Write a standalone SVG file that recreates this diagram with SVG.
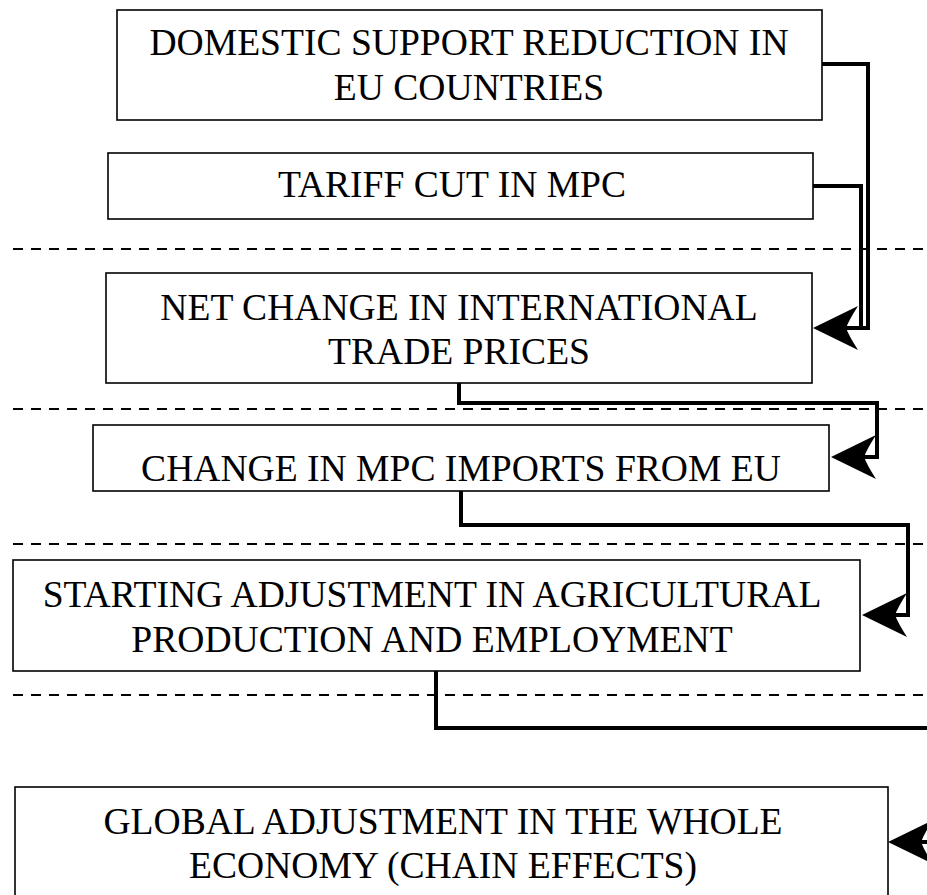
<svg xmlns="http://www.w3.org/2000/svg" width="927" height="895" viewBox="0 0 927 895">
<style>
.box{fill:#fff;stroke:#000;stroke-width:1.6}
.t{font-family:"Liberation Serif","Times New Roman",serif;font-size:37.6px;fill:#000;text-anchor:middle}
.dash{stroke:#000;stroke-width:2;stroke-dasharray:10 8;fill:none}
.conn{fill:none;stroke:#000;stroke-width:4;stroke-linejoin:miter}
</style>
<defs>
<marker id="arr" markerUnits="userSpaceOnUse" viewBox="-1 -24 48 48" markerWidth="48" markerHeight="48" refX="13" refY="0" orient="auto">
<path d="M46,0 L1,-22 Q10,-8 13,0 Q10,8 1,22 Z" fill="#000"/>
</marker>
</defs>
<g id="separators">
<line class="dash" x1="13" y1="249" x2="927" y2="249"/>
<line class="dash" x1="13" y1="409" x2="927" y2="409"/>
<line class="dash" x1="13" y1="544" x2="927" y2="544"/>
<line class="dash" x1="13" y1="695" x2="927" y2="695"/>
</g>
<g id="connectors">
<path class="conn" d="M822,64 H868 V328 H846" marker-end="url(#arr)"/>
<path class="conn" d="M813,186 H861 V328 H846"/>
<path class="conn" d="M459,383 V403 H877 V457 H864" marker-end="url(#arr)"/>
<path class="conn" d="M461,491 V525 H908 V615 H895" marker-end="url(#arr)"/>
<path class="conn" d="M436,671 V728 H960 V842 H921" marker-end="url(#arr)"/>
</g>
<g id="n1">
<rect class="box" x="117" y="10" width="705" height="110"/>
<text class="t" x="469" y="55">DOMESTIC SUPPORT REDUCTION IN</text>
<text class="t" x="469" y="100">EU COUNTRIES</text>
</g>
<g id="n2">
<rect class="box" x="108" y="153" width="705" height="66"/>
<text class="t" x="452" y="197">TARIFF CUT IN MPC</text>
</g>
<g id="n3">
<rect class="box" x="106" y="273" width="706" height="110"/>
<text class="t" x="459" y="320">NET CHANGE IN INTERNATIONAL</text>
<text class="t" x="459" y="364">TRADE PRICES</text>
</g>
<g id="n4">
<rect class="box" x="93" y="425" width="736" height="66"/>
<text class="t" x="461" y="481">CHANGE IN MPC IMPORTS FROM EU</text>
</g>
<g id="n5">
<rect class="box" x="13" y="560" width="847" height="111"/>
<text class="t" x="432" y="607">STARTING ADJUSTMENT IN AGRICULTURAL</text>
<text class="t" x="432" y="652">PRODUCTION AND EMPLOYMENT</text>
</g>
<g id="n6">
<rect class="box" x="15" y="787" width="873" height="120"/>
<text class="t" x="443" y="834">GLOBAL ADJUSTMENT IN THE WHOLE</text>
<text class="t" x="443" y="878">ECONOMY (CHAIN EFFECTS)</text>
</g>
</svg>
